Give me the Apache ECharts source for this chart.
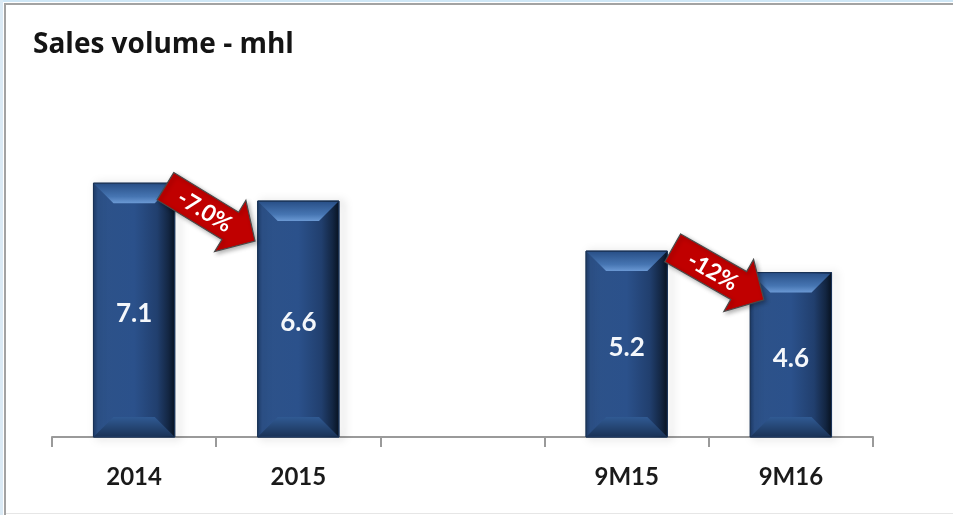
<!DOCTYPE html>
<html><head><meta charset="utf-8">
<script src="https://cdn.jsdelivr.net/npm/echarts@6/dist/echarts.min.js"></script>
<style>html,body{margin:0;padding:0;background:#fff}#c{width:953px;height:515px}</style>
</head><body><div id="c"></div>
<script>
// ---- data ----
const categories = ['2014', '2015', '', '9M15', '9M16'];
const salesVolume = [7.1, 6.6, null, 5.2, 4.6];
const changeLabels = ['-7.0%', '-12%'];
const changePairs = [[0, 1], [3, 4]];

// ---- styles (not data) ----
const FONT = 'Lato, "Open Sans", "DejaVu Sans", sans-serif';
const TITLE_FONT = '"Open Sans", Lato, sans-serif';
const arrowOffsets = [[-6, 21.5], [9.5, 12]];
const arrowAngles = [31.4, 29.7];

const chart = echarts.init(document.getElementById('c'));

function renderBar(params, api) {
  const v = api.value(1);
  const top = api.coord([api.value(0), v]);
  const base = api.coord([api.value(0), 0]);
  const w = api.size([1, 0])[0] * 0.495;
  const x0 = top[0] - w / 2, x1 = top[0] + w / 2, y0 = top[1], y1 = base[1];
  const b = 20;
  const lin = (a, c, d, e, stops) => new echarts.graphic.LinearGradient(a, c, d, e, stops);
  return {
    type: 'group',
    children: [
      { type: 'rect', shape: { x: x0, y: y0, width: w, height: y1 - y0 },
        style: { fill: lin(0, 0, 1, 0, [
          { offset: 0, color: '#1d3a66' }, { offset: 0.06, color: '#2d5289' },
          { offset: 0.5, color: '#2b518b' }, { offset: 0.78, color: '#213f6e' },
          { offset: 0.93, color: '#12243f' }, { offset: 1, color: '#08121f' }]),
          stroke: '#1a3357', lineWidth: 1,
          shadowBlur: 8, shadowOffsetX: 4, shadowOffsetY: 1, shadowColor: 'rgba(0,0,0,0.35)' } },
      { type: 'polygon', shape: { points: [[x0 + 1, y0 + 1], [x1 - 1, y0 + 1], [x1 - b, y0 + b], [x0 + b, y0 + b]] },
        style: { fill: lin(0, 0, 0, 1, [
          { offset: 0, color: '#2a5189' }, { offset: 0.65, color: '#4675b2' }, { offset: 1, color: '#6b99d4' }]) } },
      { type: 'polygon', shape: { points: [[x0 + b, y1 - b], [x1 - b, y1 - b], [x1 - 1, y1 - 1], [x0 + 1, y1 - 1]] },
        style: { fill: lin(0, 0, 0, 1, [
          { offset: 0, color: '#305a93' }, { offset: 1, color: '#1b3459' }]) } },
      { type: 'text', x: top[0], y: (y0 + y1) / 2 + 4,
        style: { text: String(v), fill: '#f4f7fb', font: 'bold 26px ' + FONT, align: 'center', verticalAlign: 'middle' } }
    ]
  };
}

const barData = [];
salesVolume.forEach((v, i) => { if (v != null) barData.push([i, v]); });

chart.setOption({
  animation: false,
  backgroundColor: '#ffffff',
  title: {
    text: 'Sales volume - mhl', left: 33, top: 31, padding: 0,
    textStyle: { fontFamily: TITLE_FONT, fontWeight: 'bold', fontSize: 28, color: '#141414' }
  },
  grid: { left: 52, right: 80, top: 151, bottom: 78 },
  xAxis: {
    type: 'category', data: categories,
    axisLine: { lineStyle: { color: '#9a9a9a', width: 2 } },
    axisTick: { show: true, length: 10, lineStyle: { color: '#9a9a9a', width: 2 } },
    axisLabel: { margin: 28, fontFamily: FONT, fontWeight: 'bold', fontSize: 24, color: '#1a1a1a' }
  },
  yAxis: { type: 'value', min: 0, max: 8, show: false, splitLine: { show: false } },
  series: [{
    type: 'custom', renderItem: renderBar, data: barData,
    encode: { x: 0, y: 1 }, clip: false, z: 2
  }]
});

// Arrows annotating the change between bars
const arrows = changePairs.map((pair, k) => {
  const p0 = chart.convertToPixel({ gridIndex: 0 }, [pair[0], salesVolume[pair[0]]]);
  const p1 = chart.convertToPixel({ gridIndex: 0 }, [pair[1], salesVolume[pair[1]]]);
  const cx = (p0[0] + p1[0]) / 2 + arrowOffsets[k][0];
  const cy = (p0[1] + p1[1]) / 2 + arrowOffsets[k][1];
  const L = 52.5, hw = 16, hh = 30, hl = 29;
  return {
    id: 'arrow' + k,
    type: 'group', x: cx, y: cy, rotation: -arrowAngles[k] * Math.PI / 180, z: 50,
    children: [
      { type: 'polygon', z: 50, shape: { points: [[-L, -hw], [L - hl, -hw], [L - hl, -hh], [L, 0], [L - hl, hh], [L - hl, hw], [-L, hw]] },
        style: { fill: '#c00000', stroke: '#4a4a4a', lineWidth: 1.2,
          shadowBlur: 4, shadowOffsetX: 2, shadowOffsetY: 2, shadowColor: 'rgba(0,0,0,0.3)' } },
      { type: 'text', z: 51, x: -6, y: 1,
        style: { text: changeLabels[k], fill: '#ffffff', font: 'bold 23px ' + FONT, align: 'center', verticalAlign: 'middle' } }
    ]
  };
});

const frame = [
  { id: 'f1', type: 'rect', shape: { x: 0, y: 0, width: 953, height: 2 }, style: { fill: '#cfe7f6' }, z: 100 },
  { id: 'f2', type: 'rect', shape: { x: 0, y: 0, width: 3, height: 515 }, style: { fill: '#dbeaf5' }, z: 100 },
  { id: 'f3', type: 'rect', shape: { x: 4, y: 3, width: 949, height: 2 }, style: { fill: '#a3a3a3' }, z: 100 },
  { id: 'f4', type: 'rect', shape: { x: 4, y: 3, width: 2, height: 512 }, style: { fill: '#a3a3a3' }, z: 100 },
  { id: 'f5', type: 'rect', shape: { x: 6, y: 513, width: 947, height: 1 }, style: { fill: '#e6e6e6' }, z: 100 }
];
chart.setOption({ graphic: frame.concat(arrows) });
</script>
</body></html>
